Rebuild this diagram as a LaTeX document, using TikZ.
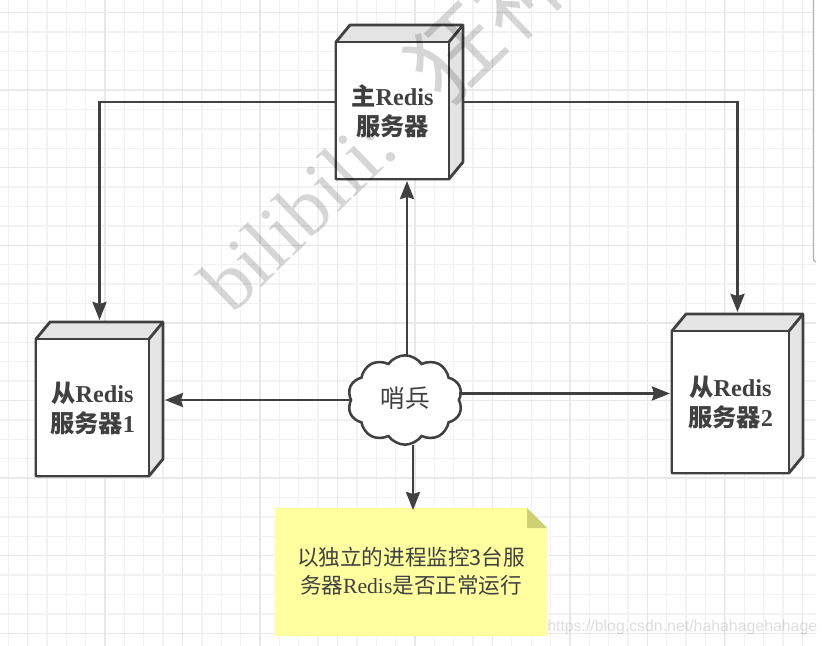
\documentclass[tikz,border=0pt]{standalone}
\usepackage{fontspec}
\setmainfont{Liberation Serif}
\newfontfamily\cjk{Noto Sans CJK SC}
\newfontfamily\urlfont{Liberation Sans}
\usetikzlibrary{arrows.meta,shapes.symbols}
\definecolor{linegray}{HTML}{404040}
\definecolor{facegray}{HTML}{E4E4E4}
\definecolor{gridminor}{HTML}{F2F2F2}
\definecolor{gridmajor}{HTML}{E8E8E8}
\definecolor{notefill}{HTML}{FFFFA0}
\definecolor{notefold}{HTML}{CFCF78}
\begin{document}
\begin{tikzpicture}[
        x=0.75pt, y=-0.75pt,
        serverbox/.style={rectangle, minimum height=#1, inner sep=0pt, outer sep=0pt},
        face/.style={draw=linegray, fill=facegray, line width=2.1pt, line join=round},
        frontface/.style={draw=linegray, fill=white, line width=2.1pt, line join=round},
        boxlabel/.style={align=center, text=linegray, font=\fontsize{18.2}{22.5}\selectfont\bfseries},
        link/.style={draw=linegray, line width=2.1pt, shorten >=1.5pt, -{Stealth[length=13.5pt,width=10.5pt,inset=1.5pt]}},
        sentinelcloud/.style={cloud, cloud puffs=10, cloud puff arc=110, aspect=1.3, draw=linegray, fill=white, line width=1.9pt, minimum width=86pt, minimum height=67pt, inner sep=0pt, outer sep=0pt},
        notelabel/.style={align=center, text=linegray, font=\fontsize{16.2}{21}\selectfont},
        watermark/.style={text=black, opacity=0.16, inner sep=0pt}
    ]

        \useasboundingbox (0,0) rectangle (826,646);
        \fill[white] (0,0) rectangle (826,646);

        % grid
        \foreach \k in {0,...,42} {
            \draw[gridminor, line width=1pt] ({8.2+19.37*\k},0) -- ({8.2+19.37*\k},646);
        }
        \foreach \k in {0,...,33} {
            \draw[gridminor, line width=1pt] (0,{12.5+19.4*\k}) -- (816,{12.5+19.4*\k});
        }
        \foreach \k in {0,...,10} {
            \draw[gridmajor, line width=1pt] ({27.5+77.48*\k},0) -- ({27.5+77.48*\k},646);
        }
        \foreach \k in {0,...,8} {
            \draw[gridmajor, line width=1pt] (0,{12.5+77.6*\k}) -- (816,{12.5+77.6*\k});
        }
        \fill[white] (816,0) rectangle (826,646);
        \fill[white] (814,0) rectangle (826,260);
        \draw[black!30, line width=1pt] (813.5,0) -- (813.5,260) -- (815.5,262);

        \node[serverbox=115.5pt, minimum width=95.25pt] (master) at (399.5, 102) {};
        \node[serverbox=115.5pt, minimum width=95.25pt] (slave1) at (99.5, 399) {};
        \node[serverbox=119.25pt, minimum width=98.25pt] (slave2) at (737.5, 393.5) {};

        % box faces
        \foreach \name in {master, slave1, slave2} {
            \draw[face] (\name.south west) -- ([yshift=-12.75pt]\name.north west) -- ([xshift=10.5pt]\name.north west) -- (\name.north east) -- ([yshift=12.75pt]\name.south east) -- ([xshift=-10.5pt]\name.south east) -- cycle;
            \draw[frontface] (\name.south west) rectangle ([xshift=-10.5pt,yshift=-12.75pt]\name.north east);
            \draw[face] ([xshift=-10.5pt,yshift=-12.75pt]\name.north east) -- (\name.north east);
        }

        \node[boxlabel] (masterlabel) at (392.5, 111) {{\cjk 主}Redis\\{\cjk 服务器}};
        \node[boxlabel] (slave1label) at (92.5, 408) {{\cjk 从}Redis\\{\cjk 服务器}1};
        \node[boxlabel] (slave2label) at (730.5, 402) {{\cjk 从}Redis\\{\cjk 服务器}2};

        \node[sentinelcloud] (sentinel) at (405, 400) {};
        \node[text=linegray, font=\fontsize{18.5}{23}\cjk] (sentinellabel) at (405, 398) {哨兵};

        \node[minimum width=204pt, minimum height=96pt, inner sep=0pt, outer sep=0pt] (note) at (411, 572) {};
        \fill[notefill] (note.south west) -- (note.north west) -- ([xshift=-15pt]note.north east) -- ([yshift=-15pt]note.north east) -- (note.south east) -- cycle;
        \fill[notefold] ([xshift=-15pt]note.north east) -- ([yshift=-15pt]note.north east) -- ([xshift=-15pt,yshift=-15pt]note.north east) -- cycle;
        \node[notelabel] (notelabel) at (411, 571) {{\cjk 以独立的进程监控3台服}\\{\cjk 务器}Redis{\cjk 是否正常运行}};

        \draw[link] (master.west) -| (slave1.north);
        \draw[link] (master.east) -| (slave2.north);
        \draw[link] ([xshift=1.5pt]sentinel.north) -- ([xshift=1.5pt]sentinel.north |- master.south);
        \draw[link] (sentinel.west) -- (sentinel.west -| slave1.east);
        \draw[link] (sentinel.east |- slave2.west) -- (slave2.west);
        \draw[link, shorten >=-1.5pt] ([xshift=1.5pt]note.north |- sentinel.south) -- ([xshift=1.5pt]note.north);

        % watermarks
        \node[watermark, rotate=44, anchor=base west, font=\fontsize{60}{64}\selectfont] (bili) at (232, 316) {bilibili:\hspace{46pt}{\fontsize{68}{72}\cjk 狂神}};
        \node[text=black, opacity=0.13, inner sep=0pt, anchor=west, font=\fontsize{11.9}{15}\urlfont] (csdn) at (547, 627) {https://blog.csdn.net/hahahagehahage};
    \end{tikzpicture}
\end{document}
